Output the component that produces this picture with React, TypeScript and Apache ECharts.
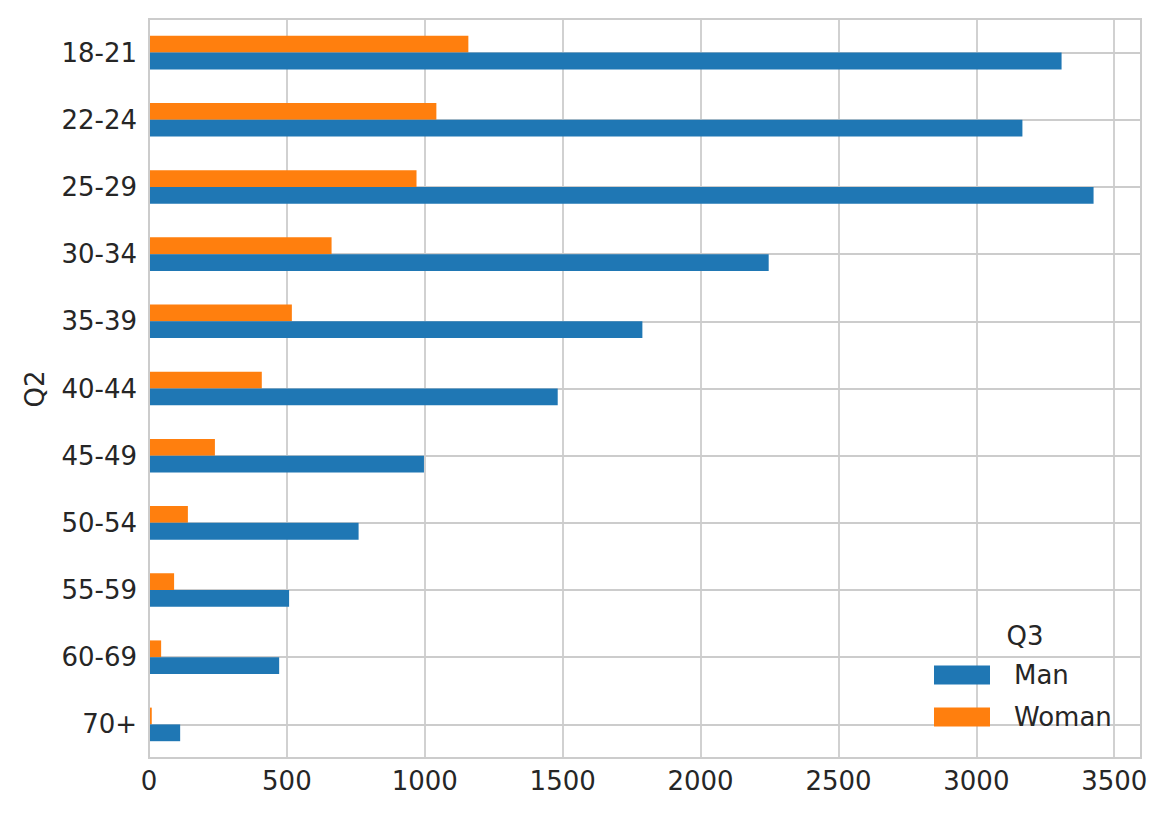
import React, { useEffect, useRef } from "react";
import * as echarts from "echarts";

// Categories listed bottom-to-top (ECharts category y axis starts at bottom)
const categories = ["70+", "60-69", "55-59", "50-54", "45-49", "40-44", "35-39", "30-34", "25-29", "22-24", "18-21"];
const manValues = [113, 472, 508, 760, 997, 1482, 1789, 2247, 3425, 3167, 3309];
const womanValues = [10, 44, 91, 141, 239, 409, 518, 662, 970, 1042, 1158];
const xTicks = [0, 500, 1000, 1500, 2000, 2500, 3000, 3500];
const seriesNames = ["Man", "Woman"];
const legendTitle = "Q3";
const yAxisTitle = "Q2";

const FONT = "DejaVu Sans";
const TEXT = "#262626";
const GRID = "#cccccc";

export default function App() {
  const ref = useRef<HTMLDivElement>(null);
  useEffect(() => {
    if (!ref.current) return;
    const chart = echarts.init(ref.current, null, { renderer: "svg" });
    chart.setOption({
      animation: false,
      backgroundColor: "#ffffff",
      textStyle: { fontFamily: FONT },
      grid: { left: 149, right: 29, top: 19, bottom: 58, containLabel: false },
      xAxis: {
        type: "value",
        min: 0,
        max: 3597,
        interval: 500,
        axisLine: { show: false },
        axisTick: { show: false },
        splitLine: { show: true, lineStyle: { color: GRID, width: 1.8 } },
        axisLabel: {
          color: TEXT,
          fontSize: 26,
          fontFamily: FONT,
          margin: 10,
          showMaxLabel: false,
          formatter: (v: number) => (xTicks.includes(v) ? String(v) : ""),
        },
      },
      yAxis: {
        type: "category",
        data: categories,
        axisLine: { show: false },
        axisTick: { show: false },
        splitLine: { show: false },
        axisLabel: { color: TEXT, fontSize: 26, fontFamily: FONT, margin: 12 },
      },
      legend: {
        orient: "vertical",
        left: 934,
        top: 662,
        padding: 0,
        icon: "rect",
        itemWidth: 56,
        itemHeight: 19,
        itemGap: 16,
        data: seriesNames,
        textStyle: { color: TEXT, fontSize: 26, fontFamily: FONT, lineHeight: 26, padding: [0, 0, 0, 19] },
      },
      graphic: [
        {
          type: "text",
          x: 35,
          y: 389,
          rotation: Math.PI / 2,
          style: { text: yAxisTitle, fill: TEXT, fontSize: 26, fontFamily: FONT, textAlign: "center", textVerticalAlign: "middle" },
        },
        {
          type: "text",
          x: 1025,
          y: 636,
          style: { text: legendTitle, fill: TEXT, fontSize: 26, fontFamily: FONT, textAlign: "center", textVerticalAlign: "middle" },
        },
        {
          type: "rect",
          shape: { x: 149, y: 19, width: 992, height: 739 },
          style: { fill: "none", stroke: GRID, lineWidth: 2 },
          z: 10,
        },
      ],
      series: [
        {
          name: seriesNames[1],
          type: "bar",
          data: womanValues,
          barWidth: "25%",
          barGap: "0%",
          itemStyle: { color: "#ff7f0e" },
        },
        {
          name: seriesNames[0],
          type: "bar",
          data: manValues,
          barWidth: "25%",
          barGap: "0%",
          itemStyle: { color: "#1f77b4" },
        },
        {
          // horizontal grid lines at each category centre
          type: "line",
          data: categories.map(() => 0),
          silent: true,
          showSymbol: false,
          lineStyle: { opacity: 0 },
          z: 0,
          markLine: {
            silent: true,
            z: 0,
            symbol: "none",
            label: { show: false },
            lineStyle: { color: GRID, width: 1.8, type: "solid" },
            data: categories.map((c) => ({ yAxis: c })),
          },
        },
      ],
    });
    return () => chart.dispose();
  }, []);
  return <div ref={ref} style={{ position: "absolute", left: 0, top: 0, width: 1170, height: 816 }} />;
}
